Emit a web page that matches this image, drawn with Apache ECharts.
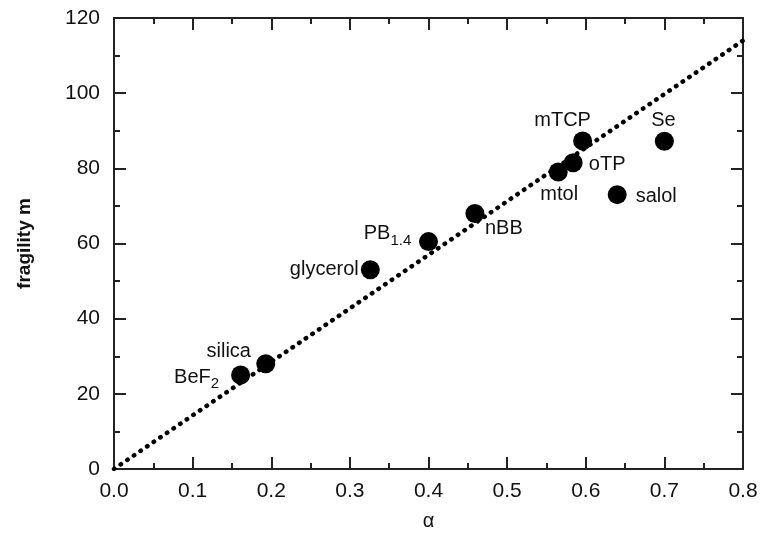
<!DOCTYPE html>
<html>
<head>
<meta charset="utf-8">
<script src="https://cdn.jsdelivr.net/npm/echarts@6/dist/echarts.min.js"></script>
<style>
  html, body { margin: 0; padding: 0; background: #fff; }
  #chart { width: 761px; height: 536px; }
</style>
</head>
<body>
<div id="chart"></div>
<script>
// glass formers: alpha vs fragility
const names = ['BeF2', 'silica', 'glycerol', 'PB1.4', 'nBB', 'mtol', 'oTP', 'mTCP', 'salol', 'Se'];
const alpha = [0.161, 0.193, 0.326, 0.40, 0.459, 0.565, 0.584, 0.596, 0.64, 0.70];
const fragility = [25, 28, 53, 60.5, 68, 79, 81.5, 87.3, 73, 87.2];
const fitLine = [[0, 0], [0.8, 114]];

// rich text for the subscripts
const labelText = {
  'BeF2': 'BeF{s|2}',
  'PB1.4': 'PB{s|1.4}'
};
// label offset from marker centre, px
const labelOffset = {
  'BeF2': [-44, 2],
  'silica': [-37, -12],
  'glycerol': [-46, 0],
  'PB1.4': [-41, -8],
  'nBB': [29, 15],
  'mtol': [1, 22],
  'oTP': [34, 2],
  'mTCP': [-20, -20],
  'salol': [39, 2],
  'Se': [-1, -21]
};

const FONT = '"Liberation Sans", Arial, Helvetica, sans-serif';
const INK = '#111';

const chart = echarts.init(document.getElementById('chart'));

const tickStyle = {
  axisLine: { show: true, onZero: false, lineStyle: { color: '#222', width: 2 } },
  axisTick: { show: true, inside: true, length: 12, lineStyle: { color: '#222', width: 2 } },
  minorTick: { show: true, splitNumber: 2, length: 6, lineStyle: { color: '#222', width: 2 } },
  splitLine: { show: false },
  minorSplitLine: { show: false }
};

const xBase = Object.assign({ type: 'value', min: 0, max: 0.8, interval: 0.1 }, tickStyle);
const yBase = Object.assign({ type: 'value', min: 0, max: 120, interval: 20 }, tickStyle);

chart.setOption({
  animation: false,
  backgroundColor: '#fff',
  grid: { left: 114, right: 18, top: 18, bottom: 64 },
  xAxis: [
    Object.assign({}, xBase, {
      position: 'bottom',
      name: 'α',
      nameLocation: 'middle',
      nameGap: 42,
      nameTextStyle: { fontFamily: FONT, fontSize: 20, color: INK },
      axisLabel: {
        margin: 12, fontFamily: FONT, fontSize: 21, color: INK,
        formatter: v => v.toFixed(1)
      }
    }),
    Object.assign({}, xBase, { position: 'top', axisLabel: { show: false } })
  ],
  yAxis: [
    Object.assign({}, yBase, {
      position: 'left',
      name: 'fragility m',
      nameLocation: 'middle',
      nameGap: 80,
      nameTextStyle: { fontFamily: FONT, fontSize: 19, fontWeight: 'bold', color: INK },
      axisLabel: { margin: 14, fontFamily: FONT, fontSize: 21, color: INK }
    }),
    Object.assign({}, yBase, { position: 'right', axisLabel: { show: false } })
  ],
  series: [
    {
      type: 'line',
      data: fitLine,
      symbol: 'none',
      z: 1,
      lineStyle: { color: '#000', width: 4.5, type: [0.5, 7.5], cap: 'round' }
    },
    {
      type: 'scatter',
      z: 3,
      symbol: 'circle',
      symbolSize: 19,
      itemStyle: { color: '#000', opacity: 1 },
      data: names.map((n, i) => ({
        name: n,
        value: [alpha[i], fragility[i]],
        label: { offset: labelOffset[n] }
      })),
      label: {
        show: true,
        position: 'inside',
        fontFamily: FONT,
        fontSize: 20,
        color: INK,
        formatter: p => labelText[p.name] || p.name,
        rich: {
          s: { fontFamily: FONT, fontSize: 15, color: INK, padding: [14, 0, 0, 0] }
        }
      }
    }
  ]
});
</script>
</body>
</html>
